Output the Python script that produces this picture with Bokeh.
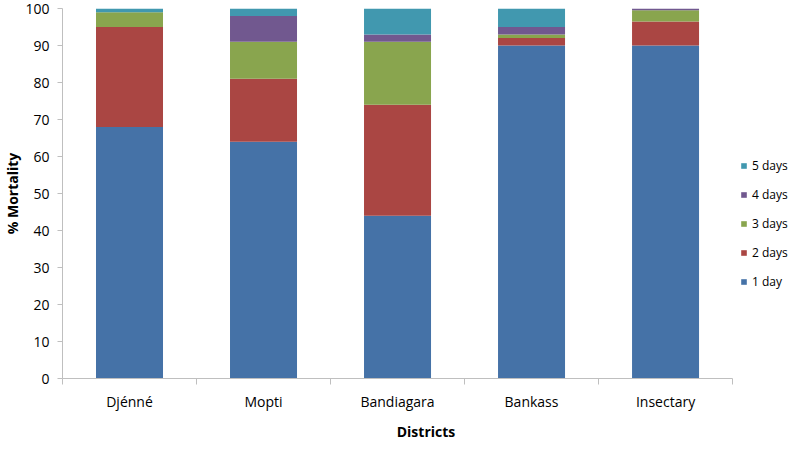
from bokeh.plotting import figure
from bokeh.models import ColumnDataSource, FixedTicker, Legend, LegendItem, Range1d
from bokeh.embed import file_html
from bokeh.resources import INLINE

districts = ["Djénné", "Mopti", "Bandiagara", "Bankass", "Insectary"]
series = ["1 day", "2 days", "3 days", "4 days", "5 days"]
day1 = [68, 64, 44, 90, 90]
day2 = [27, 17, 30, 2, 6.5]
day3 = [4, 10, 17, 1, 3]
day4 = [0, 7, 2, 2, 0.5]
day5 = [1, 2, 7, 5, 0]
colors = ["#4572A7", "#AA4643", "#89A54E", "#71588F", "#4198AF"]
y_ticks = list(range(0, 101, 10))

n = len(districts)
xpos = [i + 0.5 for i in range(n)]
data = dict(x=xpos)
for name, vals in zip(series, [day1, day2, day3, day4, day5]):
    data[name] = vals
source = ColumnDataSource(data)

FONT = "Open Sans"

# frame extends to the right edge so the legend can sit inside it;
# the axis itself is bounded to the category area
p = figure(width=789, height=443, output_backend="svg", toolbar_location=None,
           x_range=Range1d(0, n * 1.085), y_range=Range1d(0, 100),
           min_border_left=52, min_border_right=0, min_border_top=8, min_border_bottom=60)
p.outline_line_color = None
p.grid.visible = False
p.background_fill_color = "white"
p.border_fill_color = "white"

renderers = p.vbar_stack(series, x="x", width=0.5, source=source, color=colors, line_color=None)

xa = p.xaxis[0]
xa.bounds = (0, n)
xa.ticker = FixedTicker(ticks=xpos, minor_ticks=list(range(n + 1)))
xa.major_label_overrides = {x: d for x, d in zip(xpos, districts)}
xa.major_tick_out = 0
xa.major_tick_in = 0
xa.minor_tick_out = 6
xa.minor_tick_in = 0
xa.minor_tick_line_color = "#BFBFBF"
xa.axis_line_color = "#BFBFBF"
xa.major_label_text_font = FONT
xa.major_label_text_font_size = "14px"
xa.major_label_text_color = "#000000"
xa.major_label_standoff = 7
xa.axis_label = "Districts"
xa.axis_label_text_font = FONT
xa.axis_label_text_font_size = "14px"
xa.axis_label_text_font_style = "bold"
xa.axis_label_text_color = "#000000"
xa.axis_label_standoff = 8

ya = p.yaxis[0]
ya.ticker = FixedTicker(ticks=y_ticks)
ya.major_tick_out = 5
ya.major_tick_in = 0
ya.minor_tick_line_color = None
ya.major_tick_line_color = "#BFBFBF"
ya.axis_line_color = "#BFBFBF"
ya.major_label_text_font = FONT
ya.major_label_text_font_size = "14px"
ya.major_label_text_color = "#000000"
ya.major_label_standoff = 8
ya.axis_label = "% Mortality"
ya.axis_label_text_font = FONT
ya.axis_label_text_font_size = "14px"
ya.axis_label_text_font_style = "bold"
ya.axis_label_text_color = "#000000"
ya.axis_label_standoff = 0

items = [LegendItem(label=s, renderers=[r]) for s, r in zip(series, renderers)][::-1]
legend = Legend(items=items, location=(678, 88), orientation="vertical",
                border_line_color=None, background_fill_alpha=0,
                padding=0, margin=0, spacing=12,
                glyph_width=7, glyph_height=7, label_height=14,
                label_standoff=5, label_text_font=FONT,
                label_text_font_size="12px", label_text_color="#000000")
p.add_layout(legend, "center")

open("out.html", "w").write(file_html(p, INLINE))
